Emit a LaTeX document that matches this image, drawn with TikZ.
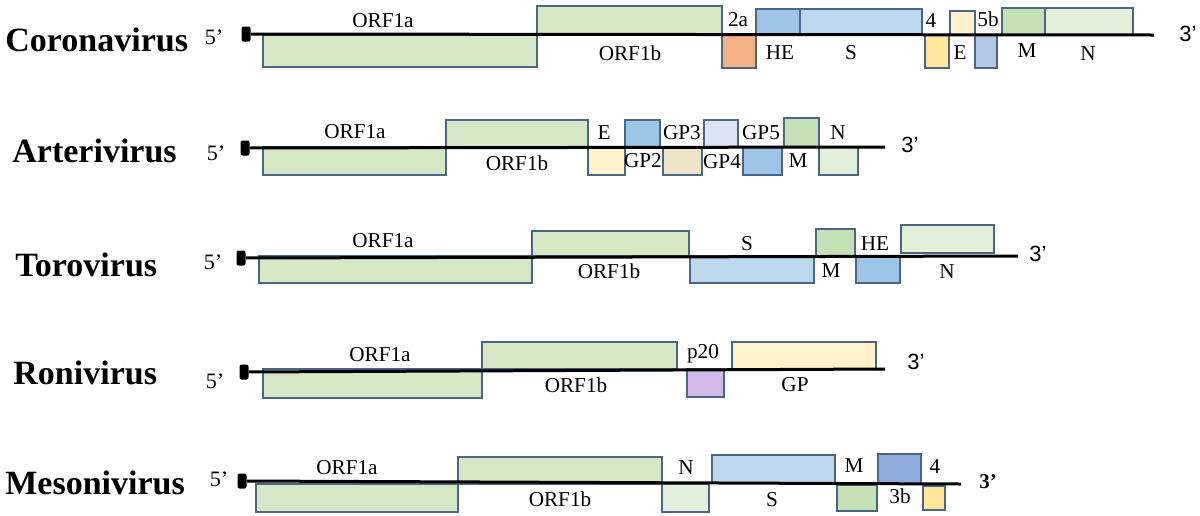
\documentclass[tikz,border=0pt]{standalone}
\usepackage{fontspec}
\setmainfont{Liberation Serif}
\newfontfamily\arial{Liberation Sans}
\definecolor{orfgreen}{HTML}{D5E8C6}
\definecolor{boxedge}{HTML}{4B6684}
\definecolor{mgreen}{HTML}{C5E0B4}
\definecolor{ngreen}{HTML}{E2F0D9}
\definecolor{sblue}{HTML}{BDD7EE}
\definecolor{midblue}{HTML}{9DC3E6}
\definecolor{paleblue}{HTML}{DAE3F3}
\definecolor{greyblue}{HTML}{B4C7E7}
\definecolor{darkblue}{HTML}{8FAADC}
\definecolor{heorange}{HTML}{F4B183}
\definecolor{gold}{HTML}{FFE699}
\definecolor{cream}{HTML}{FFF2CC}
\definecolor{gpbeige}{HTML}{EEE3C9}
\definecolor{lilac}{HTML}{D3B9EA}
\tikzset{
  gene/.style={draw=boxedge, line width=0.6pt},
  rna/.style={line width=1.5pt},
  capbox/.style={fill, rounded corners=1pt, minimum width=4.5pt, minimum height=7.5pt, inner sep=0pt},
  virus/.style={anchor=west, inner sep=0pt, font=\fontsize{17}{20}\selectfont\bfseries},
  lbl/.style={inner sep=0pt, font=\fontsize{10.6}{12}\selectfont},
  prime/.style={inner sep=0pt, font=\fontsize{11}{13}\selectfont},
  sprime/.style={inner sep=0pt, font=\arial\fontsize{11}{13}\selectfont},
}
\begin{document}
\begin{tikzpicture}[x=0.5pt,y=-0.5pt]
\useasboundingbox (0,0) rectangle (1200,515);
\node[virus] (cor) at (5,40) {Coronavirus};
\node[prime] (cor5) at (214,37) {5’};
\node[capbox] (corcap) at (246,34) {};
\coordinate (corend) at (1154,35);
\node[sprime] (cor3) at (1188,34) {3’};
\draw[gene, fill=orfgreen] (263,35) rectangle (537,67);
\draw[gene, fill=orfgreen] (537,6) rectangle (722,35);
\draw[gene, fill=heorange] (722,35) rectangle (756,68);
\draw[gene, fill=midblue] (756,9) rectangle (800,35);
\draw[gene, fill=sblue] (800,9) rectangle (922,35);
\draw[gene, fill=gold] (925,35) rectangle (949,68);
\draw[gene, fill=cream] (950,11) rectangle (975,35);
\draw[gene, fill=greyblue] (975,35) rectangle (997,68);
\draw[gene, fill=mgreen] (1002,8) rectangle (1045,35);
\draw[gene, fill=ngreen] (1045,8) rectangle (1133,35);
\draw[rna] (corcap) -- (corend);
\node[lbl] (cor1a) at (383,21) {ORF1a};
\node[lbl] (cor1b) at (630,53) {ORF1b};
\node[lbl] (cor2a) at (738,20) {2a};
\node[lbl] (corhe) at (780,53) {HE};
\node[lbl] (cors) at (851,53) {S};
\node[lbl] (cor4) at (931,21) {4};
\node[lbl] (core) at (960,53) {E};
\node[lbl] (cor5b) at (988,19) {5b};
\node[lbl] (corm) at (1027,51) {M};
\node[lbl] (corn) at (1088,54) {N};
\node[virus] (art) at (12,151) {Arterivirus};
\node[prime] (art5) at (216,153) {5’};
\node[capbox] (artcap) at (245,148) {};
\coordinate (artend) at (885,147);
\node[sprime] (art3) at (910,145) {3’};
\draw[gene, fill=orfgreen] (263,147) rectangle (446,175);
\draw[gene, fill=orfgreen] (446,120) rectangle (588,147);
\draw[gene, fill=cream] (588,147) rectangle (625,175);
\draw[gene, fill=midblue] (625,120) rectangle (660,147);
\draw[gene, fill=gpbeige] (663,147) rectangle (702,175);
\draw[gene, fill=paleblue] (704,120) rectangle (738,147);
\draw[gene, fill=midblue] (743,147) rectangle (782,175);
\draw[gene, fill=mgreen] (784,118) rectangle (819,147);
\draw[gene, fill=ngreen] (819,147) rectangle (858,175);
\draw[rna] (artcap) -- (artend);
\node[lbl] (art1a) at (355,132) {ORF1a};
\node[lbl] (art1b) at (517,163) {ORF1b};
\node[lbl] (arte) at (604,133) {E};
\node[lbl] (artgp2) at (643,161) {GP2};
\node[lbl] (artgp3) at (682,133) {GP3};
\node[lbl] (artgp4) at (722,162) {GP4};
\node[lbl] (artgp5) at (761,133) {GP5};
\node[lbl] (artm) at (798,161) {M};
\node[lbl] (artn) at (838,133) {N};
\node[virus] (tor) at (15,265) {Torovirus};
\node[prime] (tor5) at (213,262) {5’};
\node[capbox] (torcap) at (241,258) {};
\coordinate (torend) at (1018,256);
\node[sprime] (tor3) at (1038,254) {3’};
\draw[gene, fill=orfgreen] (259,256) rectangle (532,283);
\draw[gene, fill=orfgreen] (532,231) rectangle (689,256);
\draw[gene, fill=sblue] (690,256) rectangle (814,283);
\draw[gene, fill=mgreen] (816,229) rectangle (855,256);
\draw[gene, fill=midblue] (856,256) rectangle (900,283);
\draw[gene, fill=ngreen] (901,225) rectangle (994,253);
\draw[rna] (torcap) -- (torend);
\node[lbl] (tor1a) at (383,241) {ORF1a};
\node[lbl] (tor1b) at (609,271) {ORF1b};
\node[lbl] (tors) at (747,244) {S};
\node[lbl] (torm) at (831,271) {M};
\node[lbl] (torhe) at (875,244) {HE};
\node[lbl] (torn) at (947,272) {N};
\node[virus] (ron) at (13,373) {Ronivirus};
\node[prime] (ron5) at (215,381) {5’};
\node[capbox] (roncap) at (244,372) {};
\coordinate (ronend) at (885,369);
\node[sprime] (ron3) at (916,362) {3’};
\draw[gene, fill=orfgreen] (263,369) rectangle (482,398);
\draw[gene, fill=orfgreen] (482,342) rectangle (677,369);
\draw[gene, fill=lilac] (687,369) rectangle (724,397);
\draw[gene, fill=cream] (732,342) rectangle (876,369);
\draw[rna] (roncap) -- (ronend);
\node[lbl] (ron1a) at (380,355) {ORF1a};
\node[lbl] (ron1b) at (576,385) {ORF1b};
\node[lbl] (ronp20) at (703,354) {p20};
\node[lbl] (rongp) at (795,385) {GP};
\node[virus] (mes) at (5,483) {Mesonivirus};
\node[prime] (mes5) at (219,479) {5’};
\node[capbox] (mescap) at (242,481) {};
\coordinate (mesend) at (961,484);
\node[prime, font=\fontsize{10.5}{12}\selectfont\bfseries] (mes3) at (988,482) {3’};
\draw[gene, fill=orfgreen] (256,484) rectangle (458,512);
\draw[gene, fill=orfgreen] (458,457) rectangle (662,484);
\draw[gene, fill=ngreen] (662,484) rectangle (709,512);
\draw[gene, fill=sblue] (712,455) rectangle (835,483);
\draw[gene, fill=mgreen] (837,485) rectangle (877,511);
\draw[gene, fill=darkblue] (878,454) rectangle (921,484);
\draw[gene, fill=gold] (923,486) rectangle (945,510);
\draw[rna] (mescap) -- (mesend);
\node[lbl] (mes1a) at (347,468) {ORF1a};
\node[lbl] (mes1b) at (560,499) {ORF1b};
\node[lbl] (mesn) at (686,468) {N};
\node[lbl] (mess) at (772,500) {S};
\node[lbl] (mesm) at (854,466) {M};
\node[lbl] (mes3b) at (900,496) {3b};
\node[lbl] (mes4) at (935,467) {4};
\end{tikzpicture}
\end{document}
